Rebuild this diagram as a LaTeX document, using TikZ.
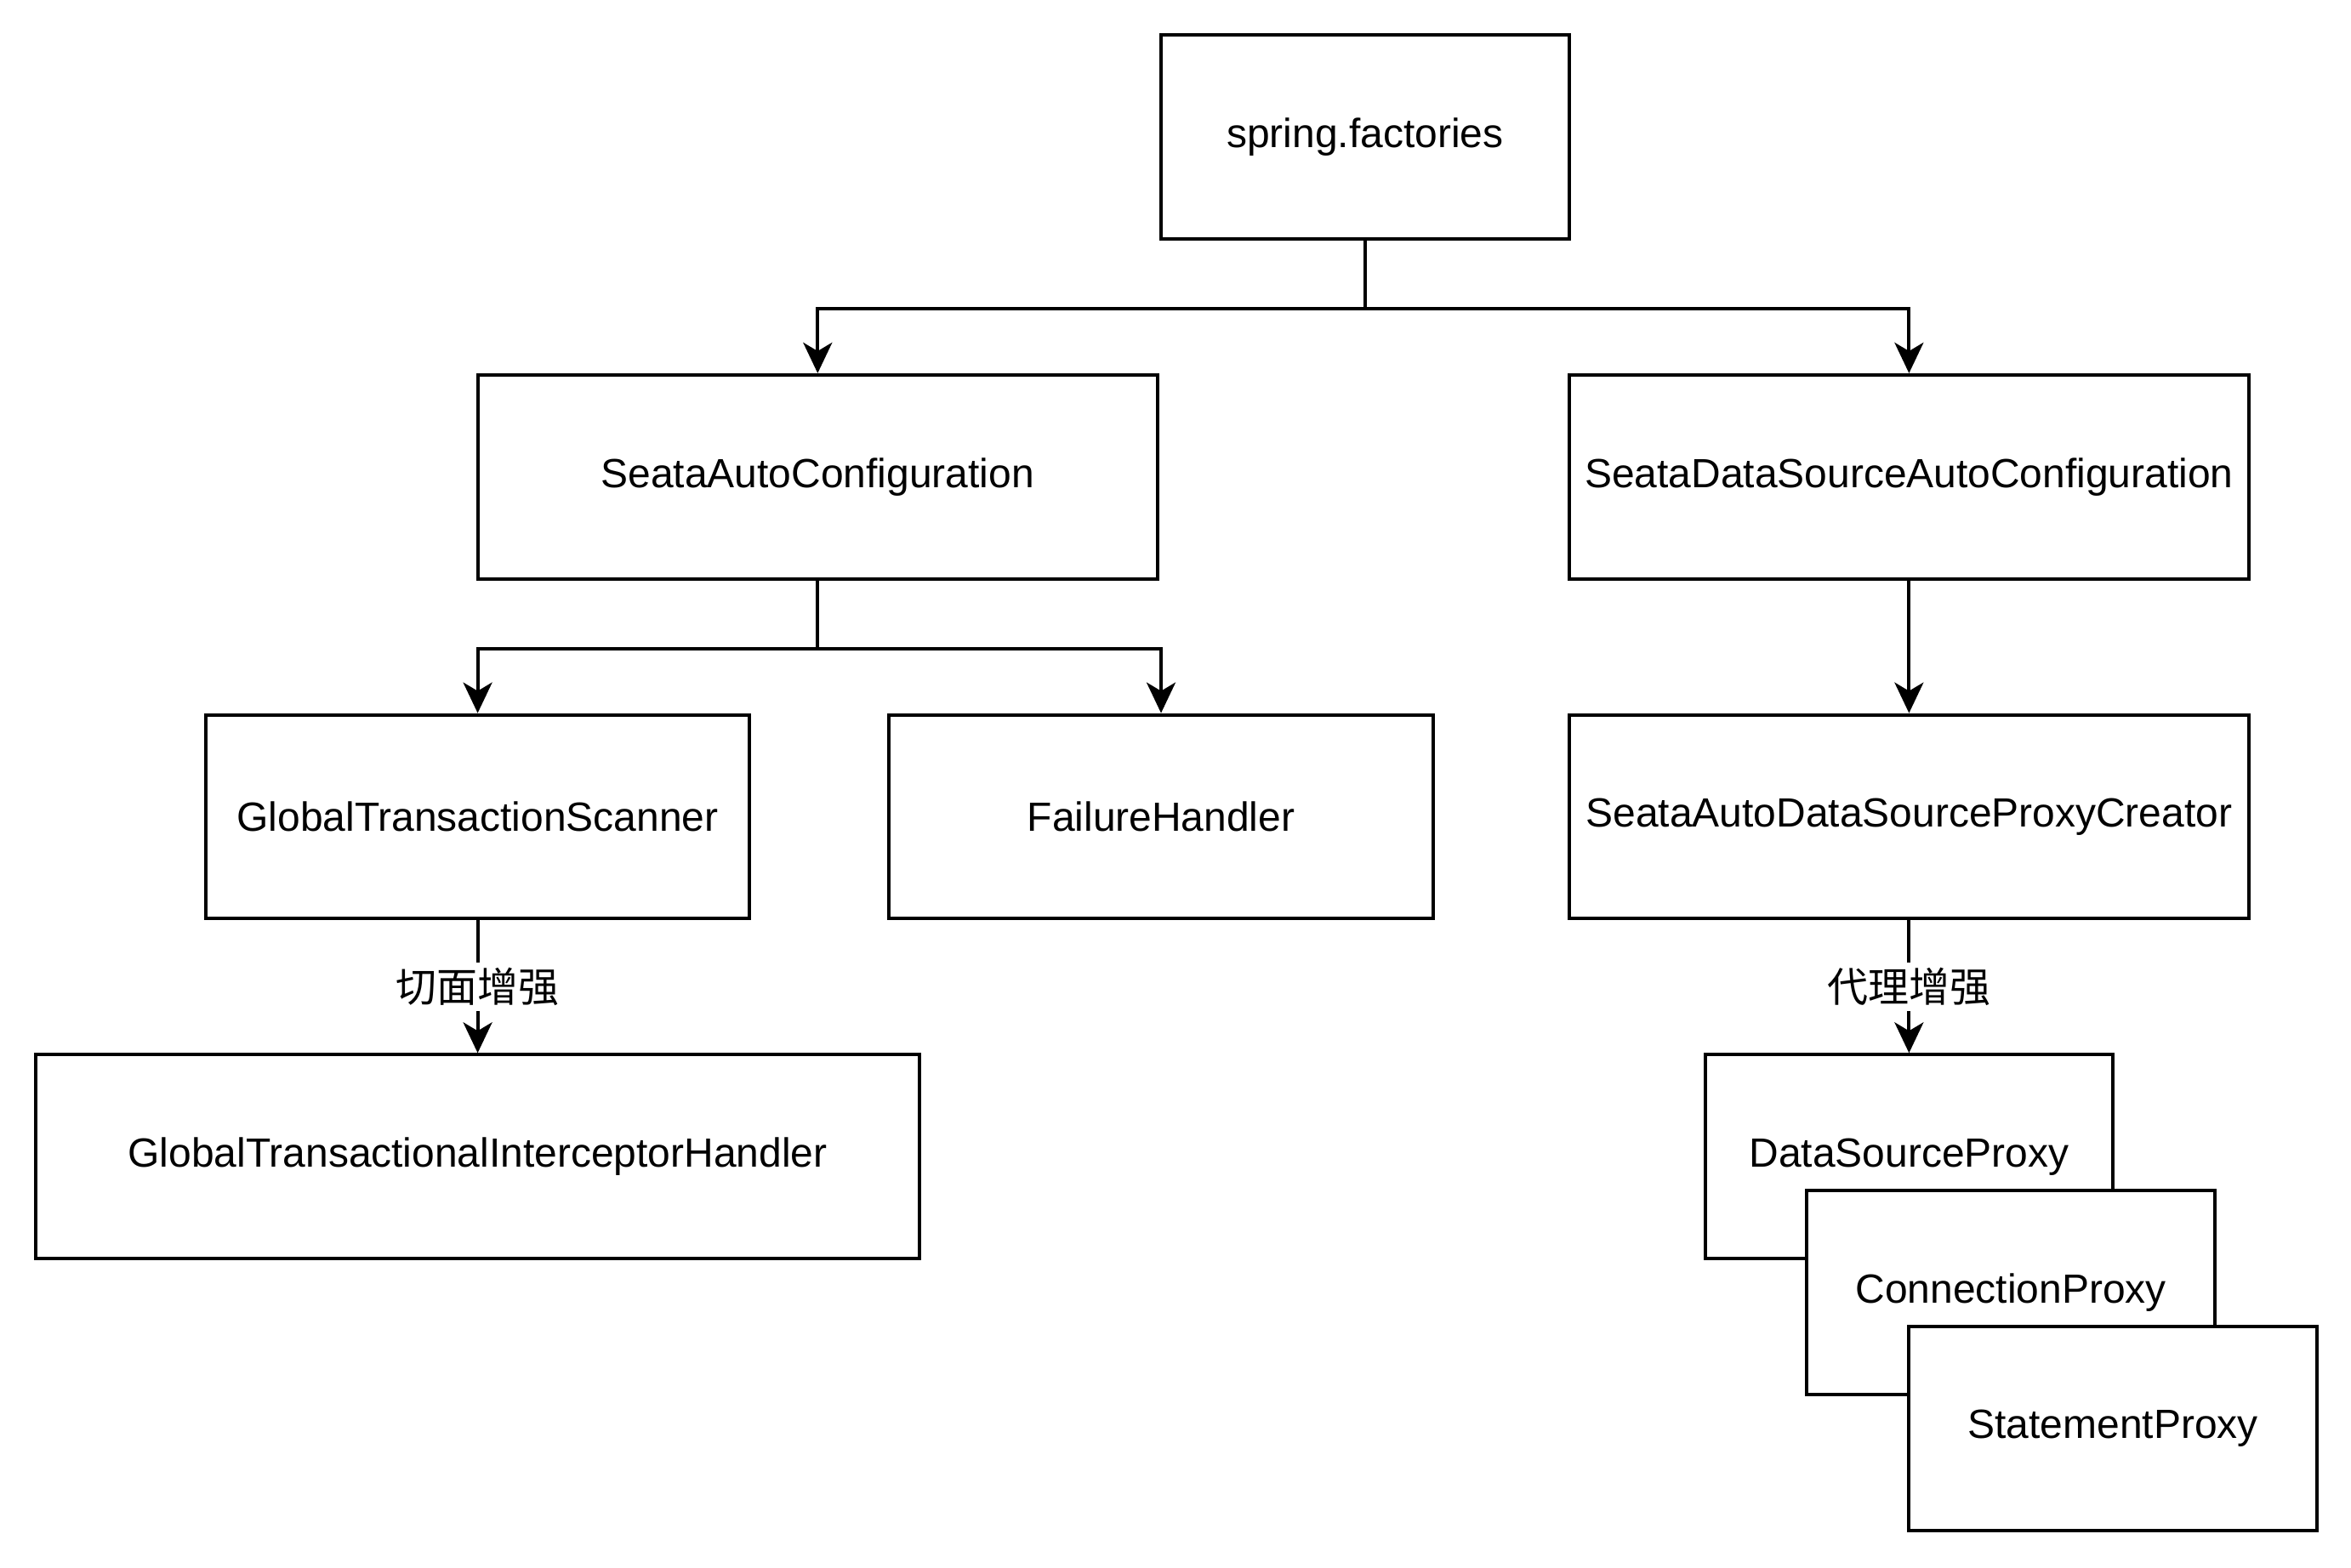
\documentclass[tikz,border=0pt]{standalone}
\usepackage{fontspec}
\setmainfont{Liberation Sans}
\newfontfamily\cjk{Noto Sans CJK SC}
\usetikzlibrary{arrows.meta, positioning}

\begin{document}
\begin{tikzpicture}[x=1pt, y=-1pt, line width=1pt,
    box/.style={draw, fill=white, minimum height=60pt, inner sep=0pt,
      font=\fontsize{12pt}{14pt}\selectfont},
    arr/.style={-{Stealth[length=9pt, width=8.5pt, inset=2.5pt]}},
    tag/.style={fill=white, inner sep=1.5pt, font=\cjk\fontsize{12pt}{14pt}\selectfont}]
          \useasboundingbox (0.5,-0.3) rectangle (692,461);

          \node (spring) [box, minimum width=120pt] at (402,40) {spring.factories};
          \node (sac) [box, minimum width=200pt] at (241,140) {SeataAutoConfiguration};
          \node (sdsac) [box, minimum width=200pt] at (562,140) {SeataDataSourceAutoConfiguration};
          \node (gts) [box, minimum width=160pt] at (141,240) {GlobalTransactionScanner};
          \node (fh) [box, minimum width=160pt] at (342,240) {FailureHandler};
          \node (sadspc) [box, minimum width=200pt] at (562,240) {SeataAutoDataSourceProxyCreator};
          \node (gtih) [box, minimum width=260pt] at (141,340) {GlobalTransactionalInterceptorHandler};
          \node (dsp) [box, minimum width=120pt] at (562,340) {DataSourceProxy};
          \node (cp) [box, minimum width=120pt] at (592,380) {ConnectionProxy};
          \node (sp) [box, minimum width=120pt] at (622,420) {StatementProxy};

          % tree edges
          \draw [arr] (spring.south) -- ++(0,20) -| (sac.north);
          \draw [arr] (spring.south) -- ++(0,20) -| (sdsac.north);
          \draw [arr] (sac.south) -- ++(0,20) -| (gts.north);
          \draw [arr] (sac.south) -- ++(0,20) -| (fh.north);
          \draw [arr] (sdsac) -- (sadspc);
          \draw [arr] (gts) -- node[tag] {切面增强} (gtih);
          \draw [arr] (sadspc) -- node[tag] {代理增强} (dsp);
      \end{tikzpicture}
\end{document}
